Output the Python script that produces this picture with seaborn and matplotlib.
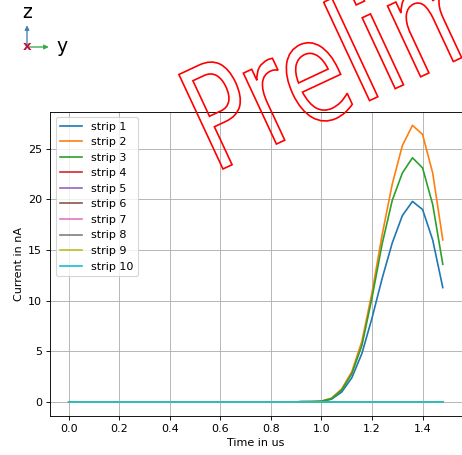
import numpy as np
import pandas as pd
import matplotlib
matplotlib.use("Agg")
import matplotlib.pyplot as plt
from matplotlib.patches import FancyArrowPatch, PathPatch
from matplotlib.textpath import TextPath
from matplotlib.font_manager import FontProperties
from matplotlib.transforms import Affine2D
import seaborn as sns

time_us = [0.00, 0.04, 0.08, 0.12, 0.16, 0.20, 0.24, 0.28, 0.32, 0.36,
           0.40, 0.44, 0.48, 0.52, 0.56, 0.60, 0.64, 0.68, 0.72, 0.76,
           0.80, 0.84, 0.88, 0.92, 0.96, 1.00, 1.04, 1.08, 1.12, 1.16,
           1.20, 1.24, 1.28, 1.32, 1.36, 1.40, 1.44, 1.48]

zeros = [0.0] * 38
strip_1 = [0.0] * 23 + [0.05, 0.05, 0.05, 0.3, 1.0, 2.4, 4.8, 8.3, 12.2, 15.7, 18.4, 19.8, 19.0, 16.0, 11.3]
strip_2 = [0.0] * 23 + [0.05, 0.06, 0.1, 0.4, 1.3, 3.0, 6.0, 10.8, 16.5, 21.5, 25.3, 27.3, 26.4, 22.6, 16.0]
strip_3 = [0.0] * 23 + [0.05, 0.06, 0.1, 0.35, 1.2, 2.8, 5.6, 10.3, 15.6, 19.9, 22.6, 24.1, 23.1, 19.5, 13.6]
strip_4 = zeros
strip_5 = zeros
strip_6 = zeros
strip_7 = zeros
strip_8 = zeros
strip_9 = zeros
strip_10 = zeros

strip_names = [f"strip {i}" for i in range(1, 11)]
series = [strip_1, strip_2, strip_3, strip_4, strip_5, strip_6, strip_7, strip_8, strip_9, strip_10]
watermark = "Preliminary"

rows = []
for name, vals in zip(strip_names, series):
    for t, v in zip(time_us, vals):
        rows.append({"time": t, "current": v, "strip": name})
df = pd.DataFrame(rows)

DPI = 80
W, H = 462, 455
fig = plt.figure(figsize=(W / DPI, H / DPI), dpi=DPI)
ax = fig.add_axes([50 / W, 1 - 416 / H, (461.5 - 50) / W, (416 - 111.5) / H])

sns.lineplot(data=df, x="time", y="current", hue="strip", hue_order=strip_names,
             palette="tab10", ax=ax, linewidth=1.5, estimator=None, sort=False)
handles, labels = ax.get_legend_handles_labels()
ax.legend(handles, labels, loc="upper left")
ax.grid(True)
ax.set_xlabel("Time in us")
ax.set_ylabel("Current in nA")
ax.set_xticks([0.0, 0.2, 0.4, 0.6, 0.8, 1.0, 1.2, 1.4])
ax.set_yticks([0, 5, 10, 15, 20, 25])

# orientation icon
ox, oy = 27 / W, 1 - 47 / H
fig.add_artist(FancyArrowPatch((ox, oy), (ox, 1 - 23 / H), transform=fig.transFigure,
                               arrowstyle="-|>", mutation_scale=8, color="#4a7fb5", lw=1.2))
fig.add_artist(FancyArrowPatch((ox, oy), (51 / W, oy), transform=fig.transFigure,
                               arrowstyle="-|>", mutation_scale=8, color="#3aa84a", lw=1.2))
fig.text(ox, oy, "x", color="#c0143c", fontsize=12, ha="center", va="center", fontweight="bold")
fig.text(ox, 1 - 13 / H, "z", fontsize=17, ha="center", va="center")
fig.text(62 / W, oy, "y", fontsize=17, ha="center", va="center")

# watermark (condensed outline text, rotated)
tp = TextPath((0, 0), watermark, size=1, prop=FontProperties(family="DejaVu Sans"))
wm_tr = Affine2D().scale(102, 143).rotate_deg(25).translate(213.9, H - 169 - 4.2)
patch = PathPatch(tp, facecolor="none", edgecolor="red", lw=1.5, transform=wm_tr, zorder=10)
fig.add_artist(patch)

fig.savefig("out.png", dpi=DPI)
